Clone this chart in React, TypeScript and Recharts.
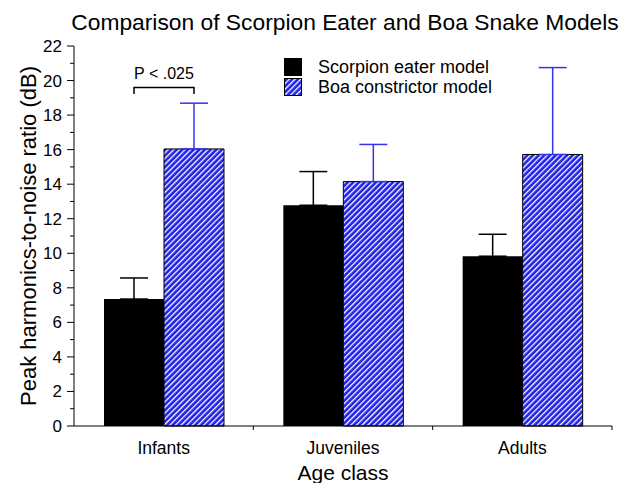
import React from "react";
import {
  BarChart,
  Bar,
  XAxis,
  YAxis,
  ErrorBar,
  Legend,
  LabelList,
  Label,
  Customized,
} from "recharts";

const categories = ["Infants", "Juveniles", "Adults"];
const scorpionMeans = [7.35, 12.78, 9.83];
const scorpionErrors = [1.22, 1.95, 1.27];
const boaMeans = [16.04, 14.15, 15.72];
const boaErrors = [2.65, 2.15, 5.03];
const yTicks = [0, 1, 2, 3, 4, 5, 6, 7, 8, 9, 10, 11, 12, 13, 14, 15, 16, 17, 18, 19, 20, 21, 22];
const seriesNames = ["Scorpion eater model", "Boa constrictor model"];
const sigCategory = "Infants";
const sigLevel = 19.6;
const sigDrop = 0.38;
const sigText = "P < .025";

const FONT = "'Liberation Sans', Arial, sans-serif";
const BLUE = "#2020e8";
const ERR_BLUE = "#3434ee";

const data = categories.map((name, i) => ({
  name,
  scorpion: scorpionMeans[i],
  scorpionErr: [0, scorpionErrors[i]],
  boa: boaMeans[i],
  boaErr: [0, boaErrors[i]],
}));

function YTick(props: any) {
  const { x, y, payload } = props;
  const v = payload.value;
  const axisX = x + 12;
  const major = v % 2 === 0;
  return (
    <g>
      <line x1={axisX - (major ? 7 : 4)} x2={axisX} y1={y} y2={y} stroke="#000" />
      {major && (
        <text x={x} y={y} dy={6} textAnchor="end" fontSize={17} fontFamily={FONT} fill="#000">
          {v}
        </text>
      )}
    </g>
  );
}

function XTick(props: any) {
  const { x, y, payload, index } = props;
  const half = payload.offset || 0;
  const axisY = y - 10;
  return (
    <g>
      {index > 0 && <line x1={x - half} x2={x - half} y1={axisY} y2={axisY + 4} stroke="#000" />}
      {index === categories.length - 1 && (
        <line x1={x + half} x2={x + half} y1={axisY} y2={axisY + 4} stroke="#000" />
      )}
      <text x={x} y={y} dy={18} textAnchor="middle" fontSize={17.5} fontFamily={FONT} fill="#000">
        {payload.value}
      </text>
    </g>
  );
}

function SigBracket(props: any) {
  const { x, y, width, height, index, value } = props;
  if (categories[index] !== sigCategory) return null;
  const perUnit = height / value;
  const base = y + height;
  const top = base - sigLevel * perUnit;
  const end = base - (sigLevel - sigDrop) * perUnit;
  const left = x - width / 2;
  const right = x + width / 2;
  return (
    <g>
      <path d={`M${left},${end}V${top}H${right}V${end}`} fill="none" stroke="#000" strokeWidth={1.5} />
      <text x={(left + right) / 2} y={top - 8} textAnchor="middle" fontSize={16} fontFamily={FONT} fill="#000">
        {sigText}
      </text>
    </g>
  );
}

function LegendBox() {
  return (
    <div style={{ fontFamily: FONT, fontSize: 18, lineHeight: "20px", color: "#000" }}>
      {seriesNames.map((n, i) => (
        <div key={n} style={{ display: "flex", alignItems: "center", height: 20 }}>
          <svg width={18} height={18} style={{ marginRight: 16 }}>
            <rect
              x={0.5}
              y={0.5}
              width={17}
              height={17}
              fill={i === 0 ? "#000" : "url(#hatch)"}
              stroke="#000"
            />
          </svg>
          <span>{n}</span>
        </div>
      ))}
    </div>
  );
}

function Title() {
  return (
    <text x={345} y={30} textAnchor="middle" fontSize={22.8} fontFamily={FONT} fill="#000">
      Comparison of Scorpion Eater and Boa Snake Models
    </text>
  );
}

export default function App() {
  return (
    <div style={{ position: "absolute", left: 0, top: 0, width: 624, height: 483, background: "#fff" }}>
      <svg width={0} height={0} style={{ position: "absolute" }}>
        <defs>
          <pattern id="hatch" patternUnits="userSpaceOnUse" width={4} height={4} patternTransform="rotate(45)">
            <rect x={0} y={0} width={4} height={4} fill={BLUE} />
            <rect x={0} y={0} width={1.3} height={4} fill="#fff" />
          </pattern>
        </defs>
      </svg>
      <BarChart
        width={624}
        height={483}
        data={data}
        margin={{ top: 46, right: 12, bottom: 0, left: 24 }}
        barCategoryGap={30}
        barGap={0}
      >
        <Customized component={Title} />
        <XAxis
          dataKey="name"
          height={57}
          tickLine={false}
          tickSize={4}
          tickMargin={6}
          tick={<XTick />}
          axisLine={{ stroke: "#000" }}
          interval={0}
        >
          <Label
            value="Age class"
            position="insideBottom"
            offset={3}
            style={{ fontFamily: FONT, fontSize: 21, fill: "#000" }}
          />
        </XAxis>
        <XAxis xAxisId="top" dataKey="name" orientation="top" height={0} tick={false} tickLine={false} axisLine={{ stroke: "#000" }} />
        <YAxis
          domain={[0, 22]}
          ticks={yTicks}
          interval={0}
          width={50}
          tickSize={7}
          tickMargin={5}
          tickLine={false}
          tick={<YTick />}
          axisLine={{ stroke: "#000" }}
        >
          <Label
            value="Peak harmonics-to-noise ratio (dB)"
            angle={-90}
            position="insideLeft"
            offset={0}
            dx={4}
            style={{ fontFamily: FONT, fontSize: 22, fill: "#000", textAnchor: "middle" }}
          />
        </YAxis>
        <YAxis yAxisId="right" orientation="right" domain={[0, 22]} width={0} tick={false} tickLine={false} axisLine={{ stroke: "#000" }} />
        <Legend
          layout="horizontal"
          verticalAlign="middle"
          align="center"
          wrapperStyle={{ left: 284, top: 57, width: 280 }}
          content={<LegendBox />}
        />
        <Bar dataKey="scorpion" name={seriesNames[0]} fill="#000" isAnimationActive={false}>
          <ErrorBar dataKey="scorpionErr" direction="y" width={14} stroke="#000" strokeWidth={1.5} />
        </Bar>
        <Bar dataKey="boa" name={seriesNames[1]} fill="url(#hatch)" stroke="#000" strokeWidth={1} isAnimationActive={false}>
          <ErrorBar dataKey="boaErr" direction="y" width={14} stroke={ERR_BLUE} strokeWidth={1.5} />
          <LabelList dataKey="boa" content={<SigBracket />} />
        </Bar>
      </BarChart>
    </div>
  );
}
